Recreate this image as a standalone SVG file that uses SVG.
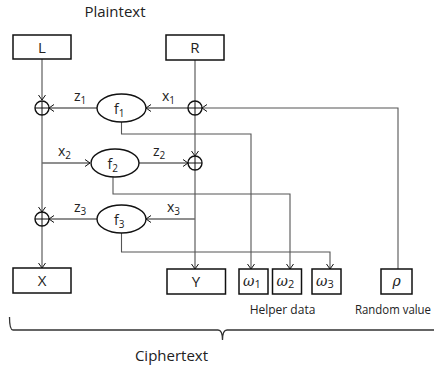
<svg xmlns="http://www.w3.org/2000/svg" width="434" height="369" viewBox="0 0 434 369">
  <defs>
    <marker id="arr" viewBox="0 0 6 8" refX="5.5" refY="4" markerWidth="6" markerHeight="8" markerUnits="userSpaceOnUse" orient="auto">
      <path d="M0.5,0.5 L5.5,4 L0.5,7.5" fill="none" stroke="#111" stroke-width="1"/>
    </marker>
    <g id="xor">
      <circle r="7" fill="none" stroke="#111" stroke-width="1.4"/>
      <path d="M-7,0 H7 M0,-7 V7" stroke="#111" stroke-width="1"/>
    </g>
  </defs>
  <style>
    .box { fill: #fff; stroke: #111; stroke-width: 1.5; }
    .fn { fill: #fff; stroke: #111; stroke-width: 1.4; }
    .wire { fill: none; stroke: #6a6a6a; stroke-width: 1.3; }
    .thin { fill: none; stroke: #555; stroke-width: 1.1; }
    .lbl { font-family: "Open Sans", "Liberation Sans", sans-serif; fill: #222; }
    .big { font-size: 15px; text-anchor: middle; }
    .note { font-size: 12px; }
    .var { font-size: 14px; }
    .sub { font-size: 10px; }
    .math { font-family: "DejaVu Serif", "Liberation Serif", serif; font-style: italic; font-size: 14px; fill: #222; }
    .idx { font-family: "Open Sans", sans-serif; font-style: normal; font-size: 11px; }
  </style>

  <!-- connectors -->
  <g id="connectors">
    <!-- left half: L through the two left XORs to X -->
    <path class="wire" d="M42,59 V100" marker-end="url(#arr)"/>
    <path class="wire" d="M42,115 V212" marker-end="url(#arr)"/>
    <path class="wire" d="M42,226 V268" marker-end="url(#arr)"/>
    <path class="wire" d="M42,163 H90" marker-end="url(#arr)"/>
    <!-- right half: R through the right XORs to Y -->
    <path class="wire" d="M195,60 V101"/>
    <path class="wire" d="M195,115 V156" marker-end="url(#arr)"/>
    <path class="wire" d="M195,170 V269" marker-end="url(#arr)"/>
    <path class="wire" d="M188,108 H146" marker-end="url(#arr)"/>
    <path class="wire" d="M195,219 H146" marker-end="url(#arr)"/>
    <!-- round function outputs -->
    <path class="wire" d="M97,108 H49" marker-end="url(#arr)"/>
    <path class="wire" d="M139,163 H188" marker-end="url(#arr)"/>
    <path class="wire" d="M97,219 H49" marker-end="url(#arr)"/>
    <!-- random value into first XOR -->
    <path class="thin" d="M398,269 V108 H202" marker-end="url(#arr)"/>
    <!-- helper data taps -->
    <path class="thin" d="M121.5,122 V134 H251 V269" marker-end="url(#arr)"/>
    <path class="thin" d="M113,177 V194 H290 V269" marker-end="url(#arr)"/>
    <path class="thin" d="M121.5,233 V252 H330 V269" marker-end="url(#arr)"/>
  </g>

  <!-- plaintext halves -->
  <text class="lbl big" x="115" y="17">Plaintext</text>
  <g id="L">
    <rect class="box" x="13" y="35" width="58" height="24"/>
    <text class="lbl big" x="42" y="52.5">L</text>
  </g>
  <g id="R">
    <rect class="box" x="166" y="35" width="58" height="25"/>
    <text class="lbl big" x="195" y="53">R</text>
  </g>

  <!-- XOR nodes -->
  <g id="xor1"><use href="#xor" x="42" y="108"/></g>
  <g id="xor2"><use href="#xor" x="195" y="108"/></g>
  <g id="xor3"><use href="#xor" x="195" y="163"/></g>
  <g id="xor4"><use href="#xor" x="42" y="219"/></g>

  <!-- round functions -->
  <g id="f1">
    <ellipse class="fn" cx="121.5" cy="108" rx="24.5" ry="14"/>
    <text class="lbl var" x="114" y="114">f<tspan class="sub" dy="3">1</tspan></text>
  </g>
  <g id="f2">
    <ellipse class="fn" cx="115" cy="163" rx="24" ry="14"/>
    <text class="lbl var" x="107.5" y="169">f<tspan class="sub" dy="3">2</tspan></text>
  </g>
  <g id="f3">
    <ellipse class="fn" cx="121.5" cy="219" rx="24.5" ry="14"/>
    <text class="lbl var" x="114" y="225">f<tspan class="sub" dy="3">3</tspan></text>
  </g>

  <!-- wire labels -->
  <text class="lbl var" x="74" y="101">z<tspan class="sub" dy="3">1</tspan></text>
  <text class="lbl var" x="162" y="101">x<tspan class="sub" dy="3">1</tspan></text>
  <text class="lbl var" x="58" y="156">x<tspan class="sub" dy="3">2</tspan></text>
  <text class="lbl var" x="153" y="156">z<tspan class="sub" dy="3">2</tspan></text>
  <text class="lbl var" x="74" y="212">z<tspan class="sub" dy="3">3</tspan></text>
  <text class="lbl var" x="167" y="212">x<tspan class="sub" dy="3">3</tspan></text>

  <!-- ciphertext outputs -->
  <g id="X">
    <rect class="box" x="13" y="268" width="58" height="25"/>
    <text class="lbl big" x="42" y="286">X</text>
  </g>
  <g id="Y">
    <rect class="box" x="167" y="269" width="58.5" height="25"/>
    <text class="lbl big" x="196" y="287">Y</text>
  </g>
  <g id="w1">
    <rect class="box" x="239" y="269" width="29" height="25"/>
    <text class="math" x="243" y="286">ω<tspan class="idx" dy="2">1</tspan></text>
  </g>
  <g id="w2">
    <rect class="box" x="272.5" y="269" width="29" height="25"/>
    <text class="math" x="276.5" y="286">ω<tspan class="idx" dy="2">2</tspan></text>
  </g>
  <g id="w3">
    <rect class="box" x="312" y="269" width="29" height="25"/>
    <text class="math" x="316" y="286">ω<tspan class="idx" dy="2">3</tspan></text>
  </g>
  <g id="rho">
    <rect class="box" x="381" y="269" width="31" height="25"/>
    <text class="math" x="396.5" y="286" text-anchor="middle">ρ</text>
  </g>

  <text class="lbl note" x="282.5" y="314" text-anchor="middle">Helper data</text>
  <text class="lbl note" x="355" y="314" textLength="76" lengthAdjust="spacingAndGlyphs">Random value</text>

  <!-- brace grouping the ciphertext -->
  <path d="M9.5,317 Q9.5,330 13,330 H218 Q222.5,330 222.5,340 Q222.5,330 227,330 H434" fill="none" stroke="#333" stroke-width="1.3"/>
  <text class="lbl" x="171.5" y="361" font-size="15" text-anchor="middle">Ciphertext</text>
</svg>
